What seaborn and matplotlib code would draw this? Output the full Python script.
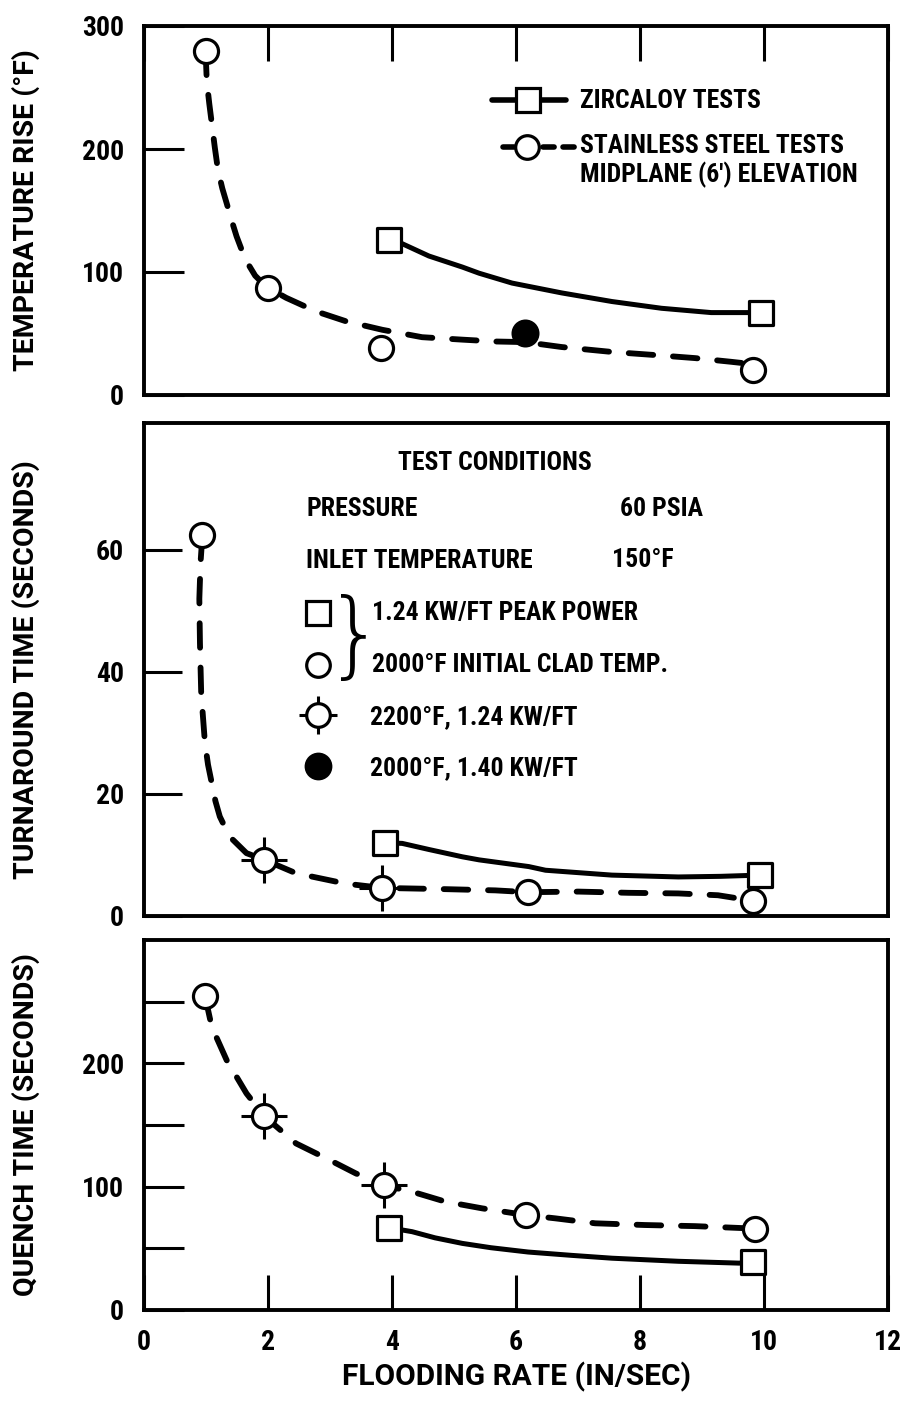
import matplotlib
matplotlib.use("Agg")
import matplotlib.pyplot as plt
import seaborn as sns
import pandas as pd

sns.set_theme(style="white")
plt.rcParams["font.family"] = ["DejaVu Sans"]
plt.rcParams.update({"text.color": "black", "axes.labelcolor": "black",
                     "xtick.color": "black", "ytick.color": "black"})
LETTER = ["Roboto Condensed", "DejaVu Sans"]
TITLE_FONT = ["Roboto", "DejaVu Sans"]

# ---------------- data ----------------
x_ticks = [0, 2, 4, 6, 8, 10, 12]

# Temperature rise (deg F)
temp_ss_x = [1.0, 2.0, 3.83, 9.82]
temp_ss_y = [280, 87, 38, 20]
temp_filled_x = [6.15]
temp_filled_y = [50]
temp_zr_x = [3.96, 9.95]
temp_zr_y = [126, 67]
temp_ss_curve_x = [1.0, 1.02, 1.06, 1.10, 1.15, 1.20, 1.27, 1.34, 1.42, 1.50, 1.59, 1.68, 1.80,
                   1.98, 2.30, 2.78, 3.26, 3.85, 4.49, 5.14, 5.67, 6.15, 6.74, 7.55, 8.24,
                   8.89, 9.47, 9.65, 9.82]
temp_ss_curve_y = [280, 255, 237, 221, 201, 183, 168, 156, 142, 129, 117, 107, 97,
                   88, 79, 68, 60, 53, 47, 45, 43.5, 43, 39, 35, 32.5,
                   30, 27, 26, 20]
temp_zr_curve_x = [3.96, 4.17, 4.60, 5.14, 5.41, 5.94, 6.74, 7.55, 8.35, 9.15, 9.95]
temp_zr_curve_y = [126, 123, 113, 104, 99, 91, 83, 76, 70.5, 67, 67]

# Turnaround time (s)
turn_ss_x = [0.95, 6.2, 9.82]
turn_ss_y = [62.5, 3.9, 2.5]
turn_cross_x = [1.95, 3.85]
turn_cross_y = [9.2, 4.6]
turn_zr_x = [3.9, 9.93]
turn_zr_y = [12.0, 6.7]
turn_ss_curve_x = [0.95, 0.92, 0.90, 0.91, 0.93, 0.99, 1.04, 1.10, 1.16, 1.23, 1.33, 1.44,
                   1.66, 1.95, 2.46, 3.26, 3.85, 4.87, 5.67, 6.20, 7.01, 7.82, 8.62, 9.26, 9.82]
turn_ss_curve_y = [62.5, 58, 52, 44.7, 36.5, 28.4, 24.8, 21.8, 18.8, 16.3, 14.2, 12.5,
                   10.3, 9.2, 7.0, 5.3, 4.6, 4.4, 4.2, 3.9, 4.0, 3.8, 3.7, 3.4, 2.5]
turn_zr_curve_x = [3.9, 4.17, 4.6, 5.14, 5.41, 6.21, 6.48, 7.55, 8.62, 9.30, 9.93]
turn_zr_curve_y = [12.0, 11.9, 10.9, 9.7, 9.2, 8.1, 7.5, 6.7, 6.4, 6.5, 6.7]

# Quench time (s)
quench_ss_x = [0.99, 6.16, 9.85]
quench_ss_y = [255, 77, 66]
quench_cross_x = [1.95, 3.88]
quench_cross_y = [157, 101]
quench_zr_x = [3.96, 9.82]
quench_zr_y = [66.7, 39]
quench_ss_curve_x = [0.99, 1.10, 1.34, 1.66, 1.95, 2.46, 3.00, 3.42, 3.88, 4.33, 4.87, 5.46,
                     6.16, 6.64, 7.28, 8.08, 8.89, 9.85]
quench_ss_curve_y = [255, 229.6, 202.6, 175.6, 157, 135, 121.6, 110.8, 101, 95.9, 87.8, 82.4,
                     77, 74.3, 70.3, 68.9, 68, 66]
quench_zr_curve_x = [3.96, 4.33, 4.70, 5.14, 5.60, 6.20, 6.90, 7.55, 8.62, 9.60, 9.82]
quench_zr_curve_y = [66.7, 63.5, 58.5, 54, 50.5, 47, 44.3, 42, 39.5, 38, 39]

# ---------------- figure ----------------
W, H = 903, 1409
fig = plt.figure(figsize=(W / 100, H / 100), dpi=100)
fig.patch.set_facecolor("white")

X0, X1 = 143.5, 888.0


def make_axes(top_px, bot_px):
    return fig.add_axes([X0 / W, 1 - bot_px / H, (X1 - X0) / W, (bot_px - top_px) / H])


ax1 = make_axes(26, 395)
ax2 = make_axes(423, 916)
ax3 = make_axes(940, 1310)

DASH = (0, (4.2, 3.4))


def curve(ax, xs, ys, dashed):
    df = pd.DataFrame({"x": xs, "y": ys})
    sns.lineplot(data=df, x="x", y="y", ax=ax, sort=False, estimator=None,
                 color="black", lw=4.2 if dashed else 3.6, zorder=2)
    ln = ax.lines[-1]
    if dashed:
        ln.set_linestyle(DASH)
        ln.set_dash_capstyle("round")
    ln.set_solid_capstyle("round")
    ln.set_solid_joinstyle("round")


def points(ax, xs, ys, kind):
    df = pd.DataFrame({"x": xs, "y": ys})
    if kind == "cross":
        sns.scatterplot(data=df, x="x", y="y", ax=ax, marker="+", s=1050,
                        color="black", linewidth=2.2, zorder=3)
        kind = "circle"
    if kind == "circle":
        sns.scatterplot(data=df, x="x", y="y", ax=ax, marker="o", s=300,
                        facecolor="white", edgecolor="black", linewidth=2.3, zorder=4)
    elif kind == "filled":
        sns.scatterplot(data=df, x="x", y="y", ax=ax, marker="o", s=330,
                        facecolor="black", edgecolor="black", linewidth=2.0, zorder=4)
    elif kind == "square":
        sns.scatterplot(data=df, x="x", y="y", ax=ax, marker="s", s=300,
                        facecolor="white", edgecolor="black", linewidth=2.3, zorder=4)


# panel 1
curve(ax1, temp_ss_curve_x, temp_ss_curve_y, True)
curve(ax1, temp_zr_curve_x, temp_zr_curve_y, False)
points(ax1, temp_ss_x, temp_ss_y, "circle")
points(ax1, temp_filled_x, temp_filled_y, "filled")
points(ax1, temp_zr_x, temp_zr_y, "square")

# panel 2
curve(ax2, turn_ss_curve_x, turn_ss_curve_y, True)
curve(ax2, turn_zr_curve_x, turn_zr_curve_y, False)
points(ax2, turn_cross_x, turn_cross_y, "cross")
points(ax2, turn_ss_x, turn_ss_y, "circle")
points(ax2, turn_zr_x, turn_zr_y, "square")

# panel 3
curve(ax3, quench_ss_curve_x, quench_ss_curve_y, True)
curve(ax3, quench_zr_curve_x, quench_zr_curve_y, False)
points(ax3, quench_cross_x, quench_cross_y, "cross")
points(ax3, quench_ss_x, quench_ss_y, "circle")
points(ax3, quench_zr_x, quench_zr_y, "square")

TICKFONT = dict(fontsize=20, fontweight="bold", color="black", family=LETTER)

for ax in (ax1, ax2, ax3):
    ax.set_xlim(0, 12)
    ax.set_facecolor("white")
    for s in ax.spines.values():
        s.set_visible(True)
        s.set_color("black")
        s.set_linewidth(2.8)
    ax.set_xlabel("")
    ax.set_ylabel("")
    ax.tick_params(axis="y", direction="in", length=29, width=2.2, color="black",
                   pad=14, left=True, right=False)

# y ranges and ticks
ax1.set_ylim(0, 300)
ax1.set_yticks([0, 100, 200, 300])
ax1.set_yticklabels(["0", "100", "200", "300"], **TICKFONT)

ax2.set_ylim(0, 80.8)
ax2.set_yticks([0, 20, 40, 60])
ax2.set_yticklabels(["0", "20", "40", "60"], **TICKFONT)
ax2.tick_params(axis="y", length=27)

ax3.set_ylim(0, 300)
ax3.set_yticks([0, 50, 100, 150, 200, 250])
ax3.set_yticklabels(["0", "", "100", "", "200", ""], **TICKFONT)

# x ticks: top of panel 1, none on panel 2, bottom of panel 3
ax1.set_xticks(x_ticks)
ax1.tick_params(axis="x", direction="in", length=25, width=2.2, color="black",
                top=True, bottom=False, labeltop=False, labelbottom=False)
ax2.set_xticks([])
ax3.set_xticks(x_ticks)
ax3.set_xticklabels([str(v) for v in x_ticks], **TICKFONT)
ax3.tick_params(axis="x", direction="in", length=25, width=2.2, color="black",
                bottom=True, top=False, pad=14)

# axis titles
LBL = dict(family=TITLE_FONT, fontweight="bold", fontsize=20.5)
fig.text(26 / W, 1 - 210 / H, "TEMPERATURE RISE (°F)", rotation=90, ha="center", va="center", **LBL)
fig.text(26 / W, 1 - 670 / H, "TURNAROUND TIME (SECONDS)", rotation=90, ha="center", va="center", **LBL)
fig.text(26 / W, 1 - 1125 / H, "QUENCH TIME (SECONDS)", rotation=90, ha="center", va="center", **LBL)
fig.text(517 / W, 1 - 1377 / H, "FLOODING RATE (IN/SEC)", ha="center", va="center",
         family=TITLE_FONT, fontweight="bold", fontsize=21.5)

ANN = dict(family=LETTER, fontweight="bold", fontsize=18.5, va="center", ha="left")


def fx(px):
    return (px - X0) / (X1 - X0)


def key_line(ax, x_a, x_b, y, dashed, fy):
    ax.plot([fx(x_a), fx(x_b)], [fy(y), fy(y)], transform=ax.transAxes, color="black",
            lw=4.0, ls=(0, (2.0, 1.6)) if dashed else "-", dash_capstyle="round",
            solid_capstyle="round", zorder=2)


# panel 1 key
fy1 = lambda py: (395 - py) / (395 - 26)
key_line(ax1, 492, 566, 100, False, fy1)
ax1.plot([fx(528)], [fy1(100)], transform=ax1.transAxes, marker="s", ms=17, mfc="white",
         mec="black", mew=2.3, zorder=4)
key_line(ax1, 503, 576, 147, True, fy1)
ax1.plot([fx(527)], [fy1(147)], transform=ax1.transAxes, marker="o", ms=17, mfc="white",
         mec="black", mew=2.3, zorder=4)
ax1.text(fx(580), fy1(101), "ZIRCALOY TESTS", transform=ax1.transAxes, **ANN)
ax1.text(fx(580), fy1(146), "STAINLESS STEEL TESTS", transform=ax1.transAxes, **ANN)
ax1.text(fx(580), fy1(175), "MIDPLANE (6') ELEVATION", transform=ax1.transAxes, **ANN)

# panel 2 test-condition box
fy2 = lambda py: (916 - py) / (916 - 423)
ax2.text(fx(398), fy2(463), "TEST CONDITIONS", transform=ax2.transAxes, **ANN)
ax2.text(fx(306), fy2(509), "PRESSURE", transform=ax2.transAxes, **ANN)
ax2.text(fx(620), fy2(509), "60 PSIA", transform=ax2.transAxes, **ANN)
ax2.text(fx(306), fy2(561), "INLET TEMPERATURE", transform=ax2.transAxes, **ANN)
ax2.text(fx(612), fy2(560), "150°F", transform=ax2.transAxes, **ANN)

ax2.plot([fx(318)], [fy2(613)], transform=ax2.transAxes, marker="s", ms=17, mfc="white",
         mec="black", mew=2.3, zorder=4)
ax2.plot([fx(318)], [fy2(665)], transform=ax2.transAxes, marker="o", ms=17, mfc="white",
         mec="black", mew=2.3, zorder=4)
ax2.plot([fx(318)], [fy2(715)], transform=ax2.transAxes, marker="+", ms=27, mec="black",
         mew=2.2, zorder=3)
ax2.plot([fx(318)], [fy2(715)], transform=ax2.transAxes, marker="o", ms=17, mfc="white",
         mec="black", mew=2.3, zorder=4)
ax2.plot([fx(318)], [fy2(766)], transform=ax2.transAxes, marker="o", ms=18, mfc="black",
         mec="black", mew=2.0, zorder=4)
ax2.text(fx(355), fy2(640), "}", transform=ax2.transAxes, family=["DejaVu Sans"],
         fontsize=68, fontweight=200, ha="center", va="center")
ax2.text(fx(372), fy2(613), "1.24 KW/FT PEAK POWER", transform=ax2.transAxes, **ANN)
ax2.text(fx(372), fy2(665), "2000°F INITIAL CLAD TEMP.", transform=ax2.transAxes, **ANN)
ax2.text(fx(370), fy2(717), "2200°F, 1.24 KW/FT", transform=ax2.transAxes, **ANN)
ax2.text(fx(370), fy2(768), "2000°F, 1.40 KW/FT", transform=ax2.transAxes, **ANN)

fig.savefig("out.png", dpi=100, facecolor="white")
